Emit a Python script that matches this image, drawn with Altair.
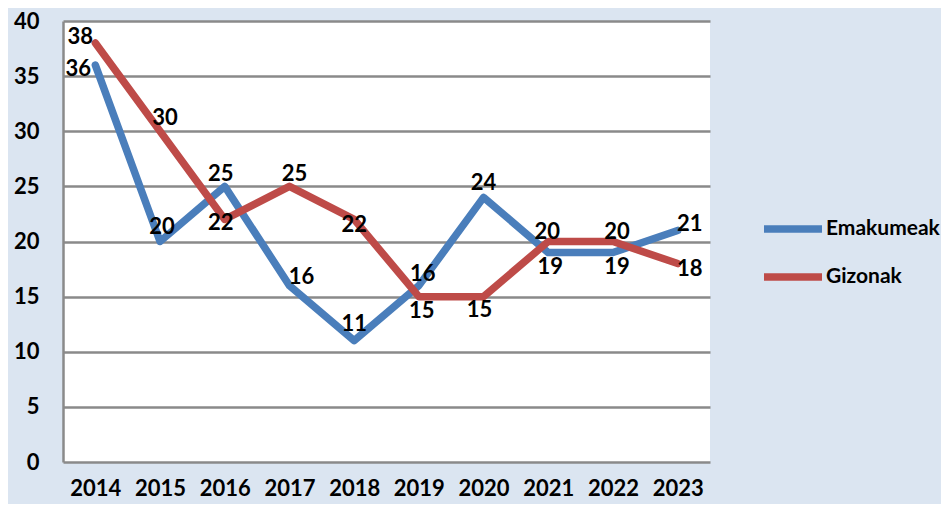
import altair as alt
import pandas as pd

years = ["2014", "2015", "2016", "2017", "2018", "2019", "2020", "2021", "2022", "2023"]
emakumeak = [36, 20, 25, 16, 11, 16, 24, 19, 19, 21]
gizonak = [38, 30, 22, 25, 22, 15, 15, 20, 20, 18]
series_names = ["Emakumeak", "Gizonak"]
series_colors = ["#4a7ebb", "#be4b48"]

# label offset styling (pixels) per point
emak_dx = [-17, 2, -4, 12, 0, 4, 0, 2, 4, 12]
emak_dy = [4, -15, -12, -9, -17, -12, -14, 14, 14, -6]
giz_dx = [-15, 5, -4, 5, 0, 3, -4, -1, 4, 12]
giz_dy = [-6, -13, 4, -12, 6, 14, 13, -10, -10, 5]

rows = []
for i, y in enumerate(years):
    rows.append({"year": y, "series": series_names[0], "value": emakumeak[i]})
for i, y in enumerate(years):
    rows.append({"year": y, "series": series_names[1], "value": gizonak[i]})
df = pd.DataFrame(rows)

FONT = "Lato"

x = alt.X("year:O", scale=alt.Scale(type="point", padding=0.5),
          axis=alt.Axis(title=None, labelAngle=0, domain=False, ticks=False,
                        labelPadding=16, labelFontSize=22, labelFontWeight="bold",
                        labelColor="black", labelFont=FONT, grid=False))
y = alt.Y("value:Q", scale=alt.Scale(domain=[0, 40], nice=False),
          axis=alt.Axis(title=None, values=list(range(0, 41, 5)), ticks=False,
                        domain=True, domainColor="#8a8a8a", domainWidth=2.5,
                        grid=True, gridColor="#8a8a8a", gridWidth=2.5,
                        labelPadding=24, labelFontSize=22, labelFontWeight="bold",
                        labelColor="black", labelFont=FONT))
color = alt.Color("series:N",
                  scale=alt.Scale(domain=series_names, range=series_colors),
                  legend=alt.Legend(title=None, orient="none", legendX=697, legendY=175,
                                    symbolType="stroke", symbolSize=3364,
                                    symbolStrokeWidth=7.5, rowPadding=-7,
                                    labelFontSize=21, labelFontWeight="bold",
                                    labelFont=FONT, labelColor="black", labelOffset=0,
                                    padding=0))

base = alt.Chart(df)
lines = base.mark_line(strokeWidth=7.5, strokeJoin="round", strokeCap="round").encode(
    x=x, y=y, color=color, detail="series:N")

layers = [lines]
offsets = {series_names[0]: (emak_dx, emak_dy), series_names[1]: (giz_dx, giz_dy)}
for s, (dxs, dys) in offsets.items():
    for i, yr in enumerate(years):
        layers.append(
            base.transform_filter(
                (alt.datum.series == s) & (alt.datum.year == yr)
            ).mark_text(font=FONT, fontSize=22, fontWeight="bold", color="black",
                        align="center", baseline="middle", dx=dxs[i], dy=dys[i]).encode(
                x=alt.X("year:O"), y=alt.Y("value:Q"), text="value:Q")
        )

chart = alt.layer(*layers).properties(
    width=647, height=441,
    background="#dbe5f1",
    autosize=alt.AutoSizeParams(type="none"),
    padding={"left": 55, "top": 13, "right": 231, "bottom": 42},
).configure_view(fill="white", stroke=None)

chart.save("out.html", embed_options={"renderer": "svg", "actions": False})
